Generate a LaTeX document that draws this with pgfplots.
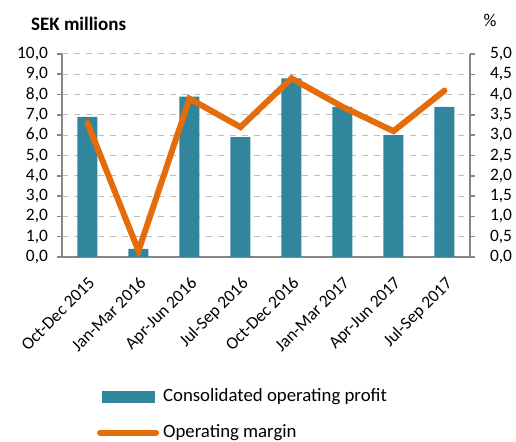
\documentclass[border=0pt]{standalone}
\usepackage{pgfplots}
\pgfplotsset{compat=1.18}
\usepackage{fontspec}
\setmainfont{Carlito}
\definecolor{barc}{RGB}{49,133,156}
\definecolor{linec}{RGB}{228,108,10}
\definecolor{axc}{RGB}{134,134,134}
\definecolor{gridc}{RGB}{190,190,190}
\begin{document}
\begin{tikzpicture}
\useasboundingbox (-31pt,-92.5pt) rectangle (227pt,128.5pt);
\pgfplotsset{
  every axis/.append style={
    at={(0,0)}, anchor=south west,
    scale only axis, width=204pt, height=101.5pt,
    xmin=-0.5, xmax=7.5,
    font=\fontsize{8.7}{10}\selectfont,
    /pgf/number format/assume math mode=true,
    /pgf/number format/.cd, fixed, fixed zerofill, precision=1, use comma,
  },
}
\begin{axis}[
  ymin=0, ymax=10, ytick={0,1,...,10},
  axis x line=bottom, axis y line=left,
  axis line style={-, axc, line width=0.8pt},
  tick style={axc, line width=0.8pt},
  tick align=outside, major tick length=2.5pt,
  xtick={0,...,7}, xtick style={draw=none},
  xticklabels={Oct-Dec 2015,Jan-Mar 2016,Apr-Jun 2016,Jul-Sep 2016,Oct-Dec 2016,Jan-Mar 2017,Apr-Jun 2017,Jul-Sep 2017},
  xticklabel style={yshift=-2pt, xshift=0pt, rotate=45, anchor=north east},
  ymajorgrids, grid style={gridc, dashed, line width=0.5pt},
  yticklabel style={xshift=-1pt},
]
\addplot[ybar, bar width=10pt, fill=barc, draw=none] coordinates {
(0,6.9) (1,0.4) (2,7.9) (3,5.9) (4,8.8) (5,7.4) (6,6.0) (7,7.4)};
\end{axis}
\begin{axis}[
  ymin=0, ymax=5, ytick={0,0.5,...,5},
  axis x line=none, axis y line=right,
  axis line style={-, axc, line width=0.8pt},
  tick style={axc, line width=0.8pt},
  tick align=outside, major tick length=2.5pt,
  yticklabel style={xshift=4pt},
  legend style={draw=none, fill=none, at={(0.085,-0.626)}, anchor=north west,
    font=\fontsize{9.4}{11}\selectfont, row sep=6pt, inner sep=0pt},
  legend cell align=left,
]
\addlegendimage{legend image code/.code={\fill[barc] (0pt,-2.75pt) rectangle (26pt,2.75pt);}}
\addlegendentry{Consolidated operating profit}
\addplot[linec, line width=3pt, line join=miter, line cap=round,
  legend image code/.code={\draw[linec, line width=3pt, line cap=round] (-1pt,0pt) -- (27pt,0pt);}]
  coordinates {(0,3.3) (1,0.15) (2,3.9) (3,3.2) (4,4.4) (5,3.7) (6,3.1) (7,4.1)};
\addlegendentry{Operating margin}
\end{axis}
\node[anchor=west, font=\bfseries\fontsize{9.5}{11}\selectfont] at (-19pt,116.5pt) {SEK millions};
\node[anchor=center, font=\fontsize{9}{11}\selectfont] at (214pt,118.5pt) {\%};
\end{tikzpicture}
\end{document}
